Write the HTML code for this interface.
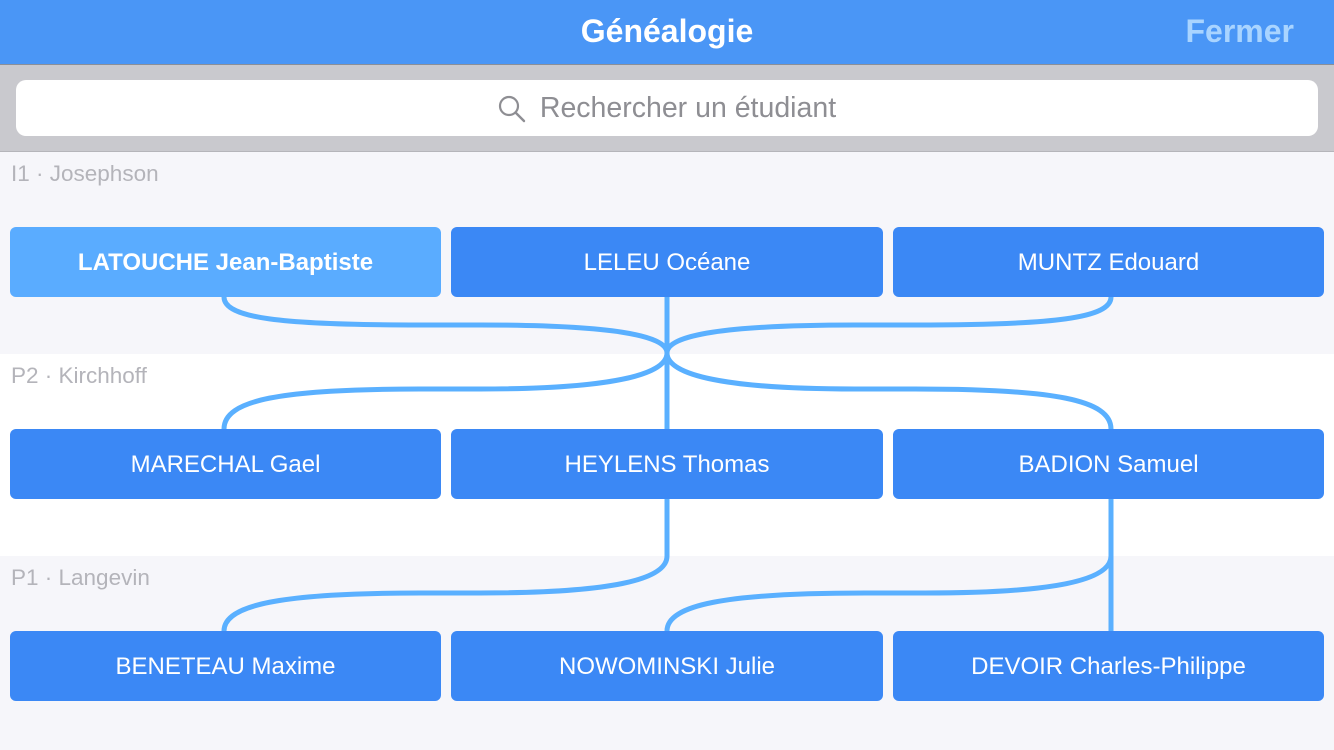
<!DOCTYPE html>
<html><head><meta charset="utf-8"><style>
body{margin:0;width:1334px;height:750px;overflow:hidden;font-family:"Liberation Sans",sans-serif;background:#f6f6fa;position:relative}
.nav{position:absolute;left:0;top:0;width:1334px;height:64px;background:#4a96f6;border-bottom:1px solid #8a8f99}
.nav .t{position:absolute;left:0;width:1334px;top:13px;text-align:center;color:#fff;font-size:32px;font-weight:bold}
.nav .f{position:absolute;right:40px;top:13px;color:#a9d4ff;font-size:32px;font-weight:bold}
.sb{position:absolute;left:0;top:65px;width:1334px;height:86px;background:#c9c9ce;border-bottom:1px solid #b5b5ba}
.si{position:absolute;left:16px;top:15px;width:1302px;height:56px;background:#fff;border-radius:10px;color:#8e8e93;font-size:28.5px;text-align:center;line-height:56px}
.band{position:absolute;left:0;width:1334px;height:202px}
.lbl{position:absolute;left:11px;font-size:22.5px;color:#b4b4ba}
.n{position:absolute;width:431px;height:70px;border-radius:6px;background:#3b88f5;color:#fff;font-size:24px;text-align:center;line-height:72px}
svg{position:absolute;left:0;top:0}
</style></head><body>
<div class="nav"><div class="t">Généalogie</div><div class="f">Fermer</div></div>
<div class="sb"><div class="si"><svg style="position:relative;display:inline-block;vertical-align:middle;margin-right:14px" width="28" height="28" viewBox="0 0 28 28"><circle cx="11" cy="11" r="9" fill="none" stroke="#8e8e93" stroke-width="2.2"/><line x1="17.5" y1="17.5" x2="26" y2="26" stroke="#8e8e93" stroke-width="2.4" stroke-linecap="round"/></svg>Rechercher un étudiant</div></div>
<div class="band" style="top:152px;background:#f6f6fa"></div>
<div class="band" style="top:354px;background:#fff"></div>
<div class="band" style="top:556px;background:#f6f6fa;height:194px"></div>
<div class="lbl" style="top:161px">I1 · Josephson</div>
<div class="lbl" style="top:363px">P2 · Kirchhoff</div>
<div class="lbl" style="top:565px">P1 · Langevin</div>
<svg width="1334" height="750"><g fill="none" stroke="#5ab0ff" stroke-width="5">
<path d="M224,297 C224,318 280,325 420,325 L480,325 C610,325 667,335 667,353 C667,375 610,389 480,389 L420,389 C280,389 224,400 224,429"/>
<path d="M1111,297 C1111,318 1055,325 915,325 L855,325 C725,325 667,335 667,353 C667,375 725,389 855,389 L915,389 C1055,389 1111,400 1111,429"/>
<path d="M667,297 L667,429"/>
<path d="M667,499 L667,556 C667,580 610,593 480,593 L420,593 C280,593 224,605 224,631"/>
<path d="M1111,499 L1111,631"/>
<path d="M1111,556 C1111,580 1055,593 925,593 L865,593 C725,593 667,605 667,631"/>
</g></svg>
<div class="n" style="left:10px;top:227px;background:#5aacff;font-weight:bold">LATOUCHE Jean-Baptiste</div>
<div class="n" style="left:451px;top:227px;width:432px">LELEU Océane</div>
<div class="n" style="left:893px;top:227px">MUNTZ Edouard</div>
<div class="n" style="left:10px;top:429px">MARECHAL Gael</div>
<div class="n" style="left:451px;top:429px;width:432px">HEYLENS Thomas</div>
<div class="n" style="left:893px;top:429px">BADION Samuel</div>
<div class="n" style="left:10px;top:631px">BENETEAU Maxime</div>
<div class="n" style="left:451px;top:631px;width:432px">NOWOMINSKI Julie</div>
<div class="n" style="left:893px;top:631px">DEVOIR Charles-Philippe</div>
</body></html>
